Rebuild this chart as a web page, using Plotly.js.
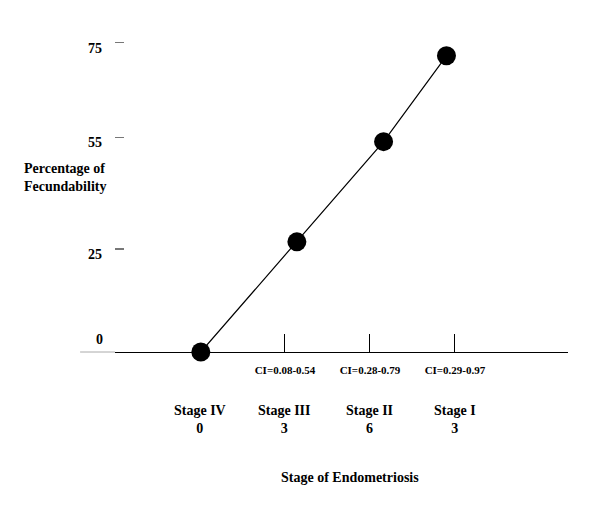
<!DOCTYPE html>
<html>
<head>
<meta charset="utf-8">
<script src="https://cdn.plot.ly/plotly-3.0.1.min.js"></script>
<style>html,body{margin:0;padding:0;background:#fff;}#chart{width:600px;height:516px;}</style>
</head>
<body>
<div id="chart"></div>
<script>
// Data
var stages = ['Stage IV', 'Stage III', 'Stage II', 'Stage I'];
var stageCounts = ['0', '3', '6', '3'];
var ciLabels = ['CI=0.08-0.54', 'CI=0.28-0.79', 'CI=0.29-0.97'];
var pointX = [0.01, 1.14, 2.16, 2.90];
var pointY = [0, 26.7, 51.0, 71.8];
var yTickLabels = ['25', '55', '75'];
var yTickVals = [25, 52, 75];

var FONT = 'Liberation Serif, Times New Roman, serif';

var trace = {
  x: pointX,
  y: pointY,
  type: 'scatter',
  mode: 'lines+markers',
  line: {color: '#000', width: 1.2},
  marker: {color: '#000', size: 19},
  cliponaxis: false,
  hoverinfo: 'skip'
};

var annotations = [];
for (var i = 0; i < stages.length; i++) {
  annotations.push({
    text: stages[i] + '<br>' + stageCounts[i],
    xref: 'x', x: i, yref: 'paper', y: 0,
    xanchor: 'center', yanchor: 'middle', yshift: -67,
    showarrow: false, align: 'center',
    font: {family: FONT, size: 14, color: '#000', weight: 'bold'}
  });
}
annotations.push({
  text: 'Stage of Endometriosis',
  xref: 'paper', x: 0.519, yref: 'paper', y: 0,
  xanchor: 'center', yanchor: 'middle', yshift: -125,
  showarrow: false,
  font: {family: FONT, size: 14, color: '#000', weight: 'bold'}
});
annotations.push({
  text: 'Percentage of<br>Fecundability',
  xref: 'paper', x: -0.205, yref: 'paper', y: 0.529,
  xanchor: 'left', yanchor: 'middle', align: 'left',
  showarrow: false,
  font: {family: FONT, size: 14, color: '#000', weight: 'bold'}
});
annotations.push({
  text: '0',
  xref: 'paper', x: -0.0347, yref: 'paper', y: 0.039,
  xanchor: 'center', yanchor: 'middle',
  showarrow: false,
  font: {family: FONT, size: 14, color: '#000', weight: 'bold'}
});

var layout = {
  width: 600, height: 516,
  margin: {l: 115, r: 32, t: 22, b: 164},
  paper_bgcolor: '#fff', plot_bgcolor: '#fff',
  showlegend: false,
  xaxis: {
    range: [-1, 4.33],
    showgrid: false, zeroline: false,
    showline: true, linecolor: '#000', linewidth: 1.3,
    ticks: 'inside', ticklen: 18, tickwidth: 1, tickcolor: '#000',
    tickvals: [1, 2, 3], ticktext: ciLabels,
    ticklabelstandoff: 7,
    tickfont: {family: FONT, size: 11, color: '#000', weight: 'bold'},
    fixedrange: true
  },
  yaxis: {
    range: [0, 80],
    showgrid: false, zeroline: false, showline: false,
    ticks: 'inside', ticklen: 9, tickwidth: 1.5, tickcolor: '#777',
    tickvals: yTickVals, ticktext: yTickLabels,
    ticklabelstandoff: 12, ticklabelshift: 5,
    tickfont: {family: FONT, size: 14, color: '#000', weight: 'bold'},
    fixedrange: true
  },
  shapes: [{
    type: 'line', xref: 'paper', yref: 'paper',
    x0: -0.077, x1: 0, y0: 0, y1: 0,
    line: {color: '#aaa', width: 1}
  }],
  annotations: annotations
};

Plotly.newPlot('chart', [trace], layout, {displayModeBar: false, staticPlot: true});
</script>
</body>
</html>
